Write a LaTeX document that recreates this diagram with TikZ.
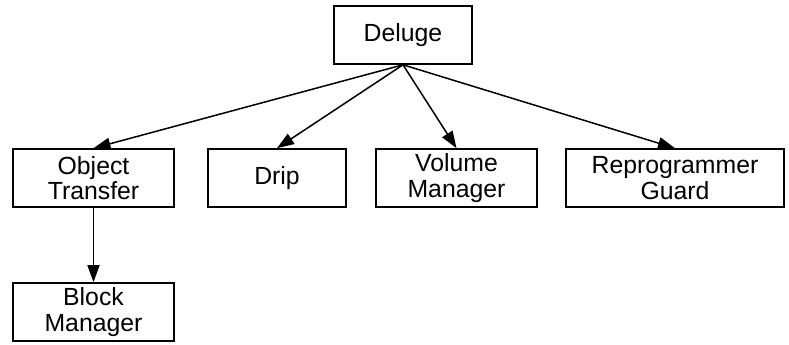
\documentclass[tikz,border=0pt]{standalone}
\usepackage{fontspec}
\setmainfont{Liberation Sans}
\usetikzlibrary{arrows.meta}

\begin{document}
\begin{tikzpicture}[x=0.5pt, y=-0.5pt,
        module/.style={rectangle, draw, line width=0.8pt, inner sep=1pt, minimum height=29pt, align=center, font=\fontsize{12.4}{12.6}\selectfont},
        ->, >={Triangle[length=8.5pt,width=6pt]}, line width=0.75pt]
        \useasboundingbox (0,0) rectangle (789,344);
        \node[module, minimum width=69pt] (deluge) at (403,35) {Deluge};

        \node[module, minimum width=80.5pt] (objtransfer) at (93.5,178) {Object\\Transfer};
        \node[module, minimum width=69pt] (drip) at (277,178) {Drip};
        \node[module, minimum width=80.5pt] (volmgr) at (456.5,178) {Volume\\Manager};
        \node[module, minimum width=109pt] (reprog) at (675,178) {Reprogrammer\\Guard};
        \draw (deluge.south) -- (objtransfer.north); \draw (deluge.south) -- (drip.north);
        \draw (deluge.south) -- (volmgr.north); \draw (deluge.south) -- (reprog.north);

        \node[module, minimum width=80.5pt] (blockmgr) at (93.5,312) {Block\\Manager};
        \draw (objtransfer) -- (blockmgr);
\end{tikzpicture}
\end{document}
